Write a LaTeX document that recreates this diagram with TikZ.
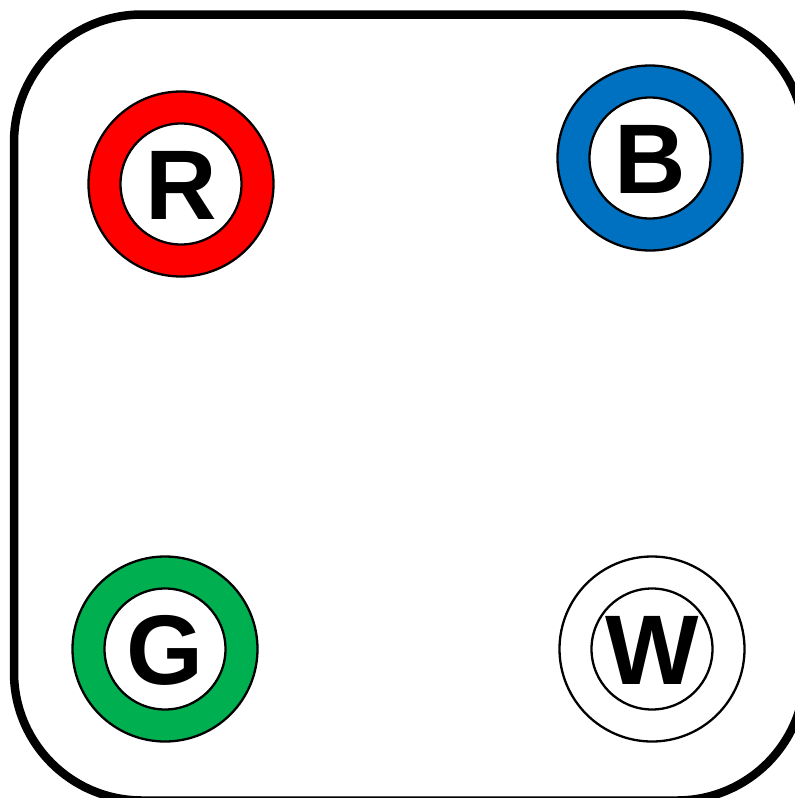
\documentclass[tikz,border=0pt]{standalone}
\usepackage{fontspec}
\setmainfont{Liberation Sans}
\definecolor{rring}{HTML}{FF0000}
\definecolor{bring}{HTML}{0070C0}
\definecolor{gring}{HTML}{00B050}
\begin{document}
\begin{tikzpicture}[x=1pt,y=-1pt,
  ring/.style={circle, draw=black, line width=2.3pt, minimum size=185pt, inner sep=0pt},
  hole/.style={circle, draw=black, fill=white, line width=2.3pt, minimum size=121pt, inner sep=0pt,
    font=\fontsize{99}{99}\selectfont\bfseries, text height=70pt, text depth=0pt},
  frame/.style={draw=black, line width=8.5pt, rounded corners=128pt, inner sep=0pt}]
\useasboundingbox (0,0) rectangle (795,798);
\begin{scope}
\clip (0,0) rectangle (795,798);
\node[frame, minimum width=791pt, minimum height=786pt] (box) at (409.5,407.5) {};
\end{scope}
\node[ring, fill=rring] (rout) at (181,184) {};
\node[hole] (rin) at (rout.center) {R};
\node[ring, fill=bring] (bout) at (650,158) {};
\node[hole] (bin) at (bout.center) {B};
\node[ring, fill=gring] (gout) at (165,649) {};
\node[hole] (gin) at (gout.center) {G};
\node[ring, fill=white] (wout) at (652,649) {};
\node[hole] (win) at (wout.center) {W};
\end{tikzpicture}
\end{document}
